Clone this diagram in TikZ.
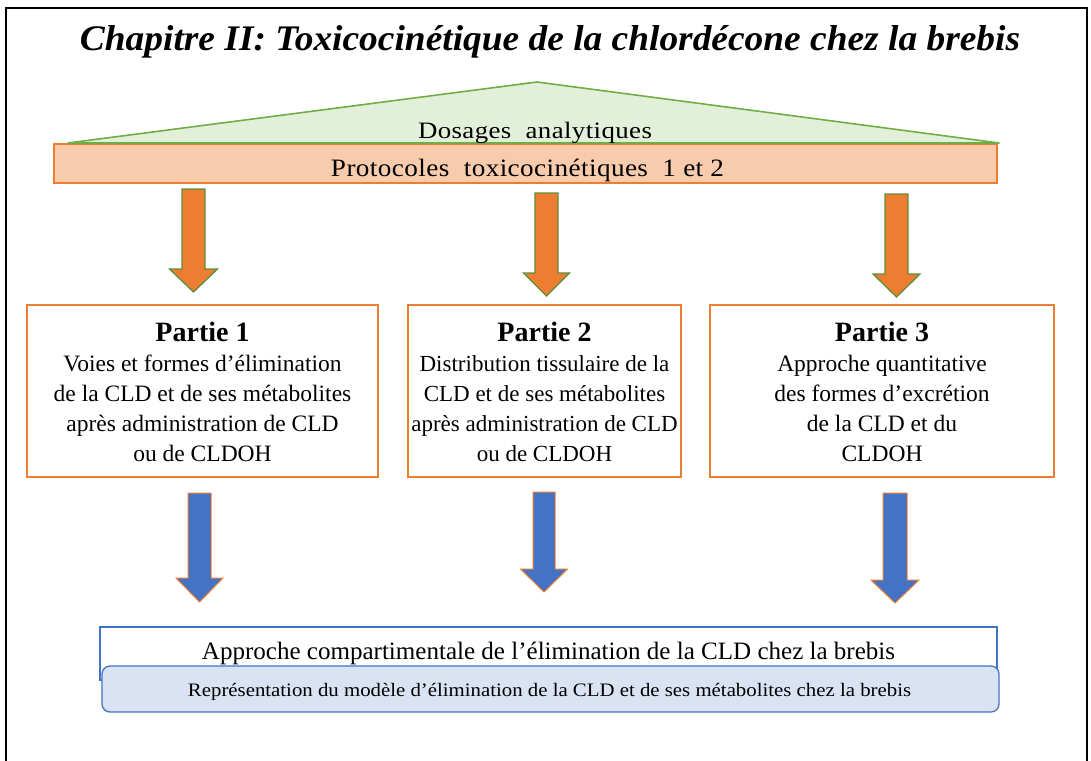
\documentclass[tikz,border=0pt]{standalone}
\usepackage{fontspec}
\setmainfont{Liberation Serif}
\newfontfamily\spacedserif[LetterSpace=1.5]{Liberation Serif}
\usepackage{graphicx}
\definecolor{orng}{HTML}{ED7D31}
\definecolor{orngfill}{HTML}{F8CBAD}
\definecolor{grn}{HTML}{70AD47}
\definecolor{grnfill}{HTML}{E2F0D9}
\definecolor{darkgrn}{HTML}{5E8E3A}
\definecolor{blu}{HTML}{4472C4}
\definecolor{blufill}{HTML}{DAE3F3}
\newcommand\blockarrow[7]{\draw[#1] ({#2-#6},#3) -- ({#2+#6},#3) -- ({#2+#6},#4) -- ({#2+#7},#4) -- (#2,#5) -- ({#2-#7},#4) -- ({#2-#6},#4) -- cycle;}
\tikzset{
  tri/.style={draw=grn, fill=grnfill, line width=1.6pt, line join=round},
  proto/.style={draw=orng, fill=orngfill, line width=1.6pt, inner sep=0pt},
  partbox/.style={draw=orng, fill=white, line width=1.5pt, inner sep=0pt},
  orarrow/.style={fill=orng, draw=darkgrn, line width=1.3pt},
  bluarrow/.style={fill=blu, draw=orng, line width=1pt},
  lbl/.style={inner sep=0pt, anchor=base},
  parttxt/.style={inner sep=0pt, anchor=south, align=center, font=\fontsize{23.5}{30}\selectfont},
  whitebox/.style={draw=blu, fill=white, line width=1.3pt, inner sep=0pt},
  roundbox/.style={draw=blu, fill=blufill, line width=1.3pt, rounded corners=8pt, inner sep=0pt},
}
\newcommand\parttitle[1]{{\fontsize{28}{30}\selectfont\bfseries #1}}
\begin{document}
\begin{tikzpicture}[x=1pt,y=-1pt]
\useasboundingbox (0,0) rectangle (1091,760);
% frame
\draw[line width=2.5pt] (6,800) -- (6,8) -- (1087,8) -- (1087,800);
% title
\node[lbl] (title) at (550,51) {\resizebox{940pt}{\height}{\fontsize{36}{40}\selectfont\bfseries\itshape Chapitre II: Toxicocinétique de la chlordécone chez la brebis}};
% protocoles bar and triangle
\node[proto, minimum width=943pt, minimum height=39pt] (proto) at (525.5,163.5) {};
\draw[tri] (68,143) coordinate (tl) -- (537,82) coordinate (apex) -- (999,143) coordinate (tr) -- cycle;
\node[lbl] (dosages) at (535,138) {\resizebox{234pt}{\height}{\fontsize{23.5}{28}\spacedserif Dosages\ \ analytiques}};
\node[lbl] (prototxt) at (527.5,176) {\resizebox{393pt}{\height}{\fontsize{25}{30}\spacedserif Protocoles\ \ toxicocinétiques\ \ 1\ et\ 2}};
% orange arrows
\blockarrow{orarrow}{193.5}{189}{269}{292}{11.5}{24}
\blockarrow{orarrow}{546.5}{193}{273}{296}{11.5}{23}
\blockarrow{orarrow}{896.5}{194}{274}{297}{11.5}{23.5}
% part boxes
\node[partbox, minimum width=351pt, minimum height=172pt] (p1) at (202.5,391) {};
\node[partbox, minimum width=273pt, minimum height=172pt] (p2) at (544.5,391) {};
\node[partbox, minimum width=344pt, minimum height=172pt] (p3) at (882,391) {};
\node[parttxt] (p1t) at (202.5,462) {\parttitle{Partie 1}\\Voies et formes d’élimination\\de la CLD et de ses métabolites\\après administration de CLD\\ou de CLDOH};
\node[parttxt, font=\fontsize{23}{30}\selectfont] (p2t) at (544.5,462) {\parttitle{Partie 2}\\Distribution tissulaire de la\\CLD et de ses métabolites\\après administration de CLD\\ou de CLDOH};
\node[parttxt] (p3t) at (882,462) {\parttitle{Partie 3}\\Approche quantitative\\des formes d’excrétion\\de la CLD et du\\CLDOH};
% blue arrows
\blockarrow{bluarrow}{199.5}{493}{578}{602}{11.5}{23.5}
\blockarrow{bluarrow}{544}{492}{569}{592}{11}{23.5}
\blockarrow{bluarrow}{895}{493}{580}{603}{12}{24}
% bottom boxes
\node[whitebox, minimum width=897pt, minimum height=53pt] (comp) at (548.5,653.5) {};
\node[roundbox, minimum width=897pt, minimum height=46pt] (model) at (550.5,689) {};
\node[lbl] (comptxt) at (548.5,659) {\resizebox{693pt}{\height}{\fontsize{25}{30}\selectfont Approche compartimentale de l’élimination de la CLD chez la brebis}};
\node[lbl] (modeltxt) at (549.5,696) {\resizebox{723pt}{\height}{\fontsize{19}{24}\selectfont Représentation du modèle d’élimination de la CLD et de ses métabolites chez la brebis}};
\end{tikzpicture}
\end{document}
